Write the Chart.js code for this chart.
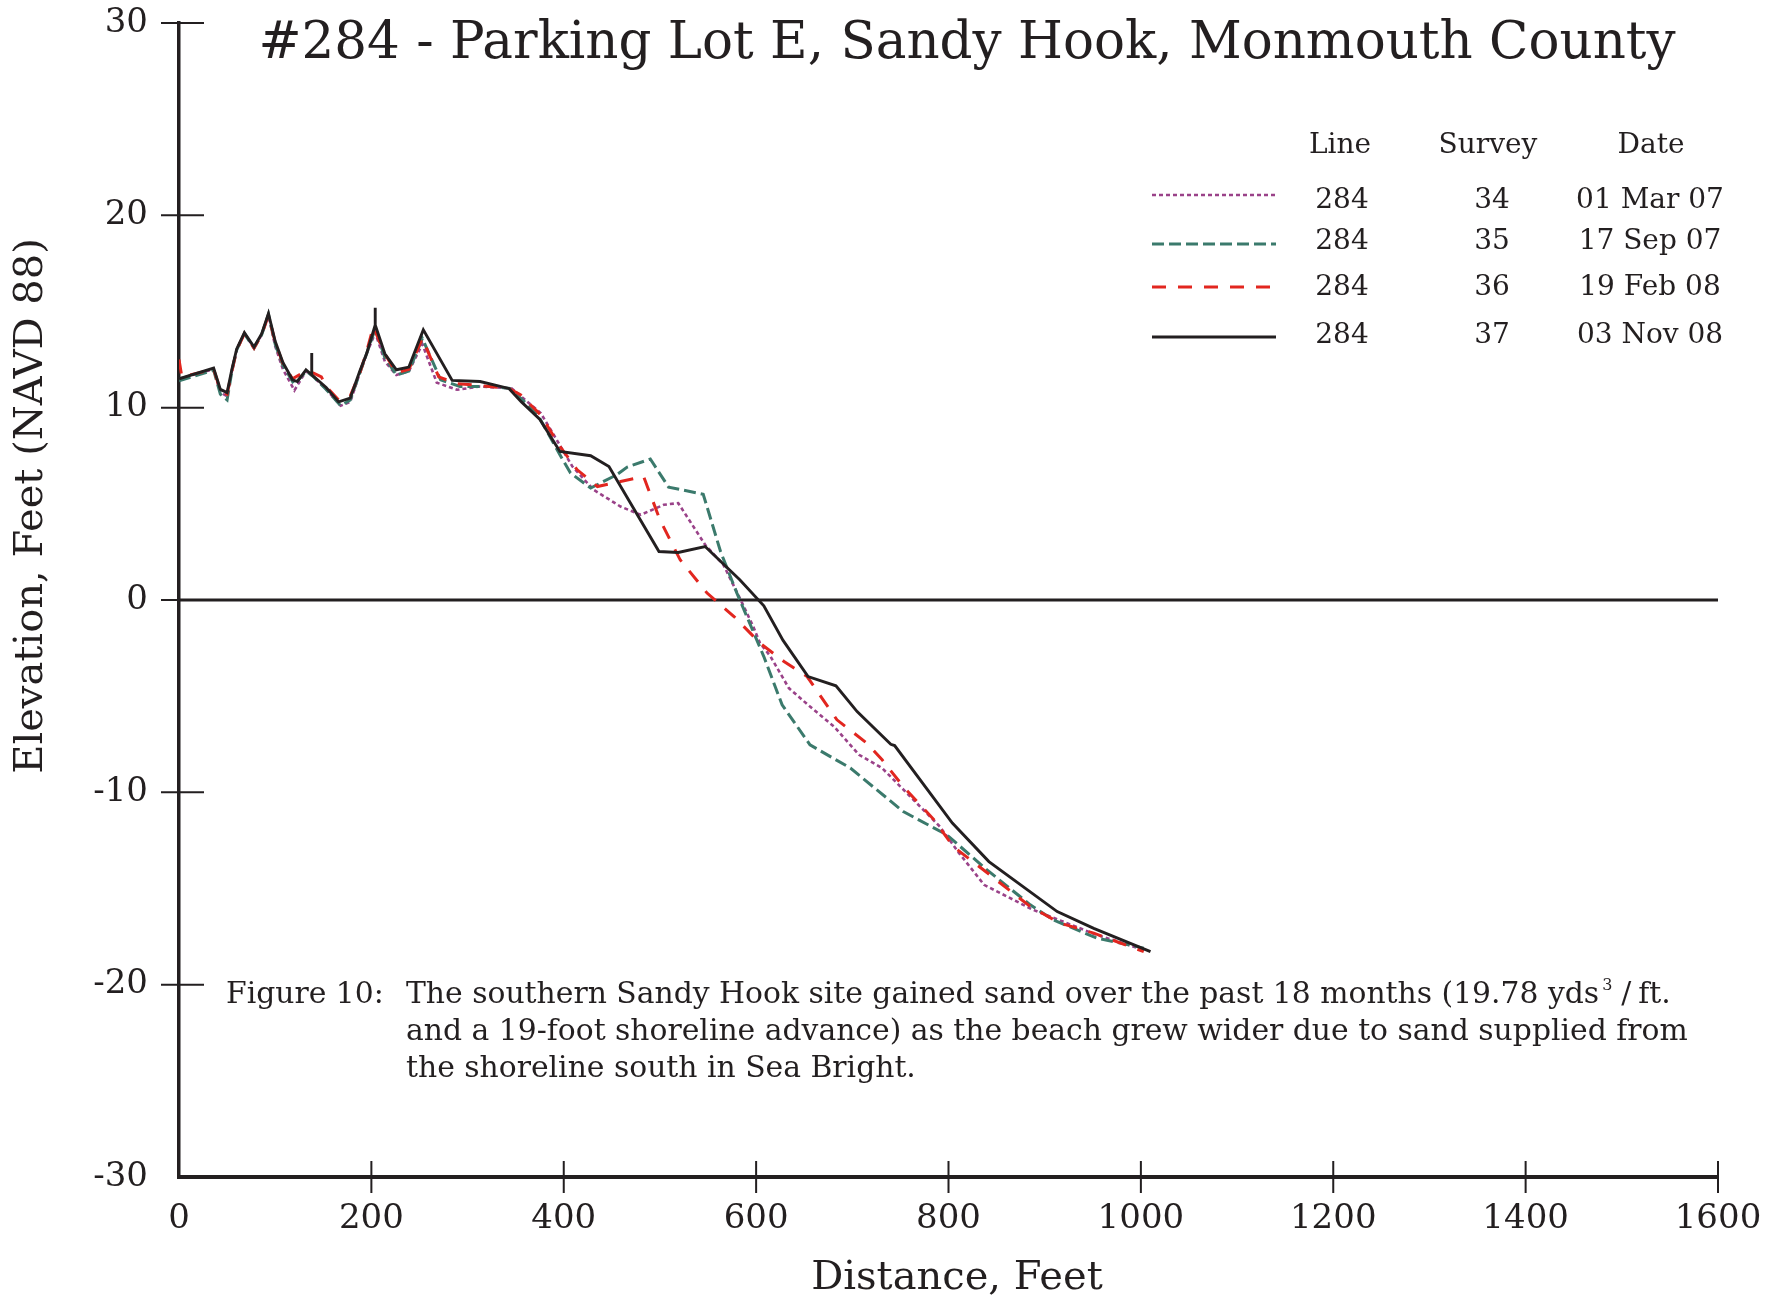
<!DOCTYPE html>
<html>
<head>
<meta charset="utf-8">
<title>#284 - Parking Lot E, Sandy Hook</title>
<script src="https://cdn.jsdelivr.net/npm/chart.js@4.4.0/dist/chart.umd.min.js"></script>
<style>
  html, body { margin: 0; padding: 0; background: #fff; }
  #wrap { width: 1786px; height: 1303px; }
</style>
</head>
<body>
<div id="wrap"><canvas id="profile" width="1786" height="1303"></canvas></div>
<script>
// ---- data ----
const distTicks = [0, 200, 400, 600, 800, 1000, 1200, 1400, 1600];
const elevTicks = [-30, -20, -10, 0, 10, 20, 30];

const lineNo = "284";
const surveys = ["34", "35", "36", "37"];
const dates = ["01 Mar 07", "17 Sep 07", "19 Feb 08", "03 Nov 08"];

// survey 34 - 01 Mar 07
const dist34 = [0, 36, 43, 50, 55, 60, 68, 78, 86, 93, 100, 108, 120, 132, 140, 153, 168, 178, 188, 195, 204, 214, 226, 239, 253, 268, 289, 313, 346, 376, 393, 409, 431, 459, 480, 504, 519, 547, 566, 584, 597, 604, 615, 634, 656, 681, 707, 731, 750, 791, 811, 837, 888, 954, 1003];
const elev34 = [11.5, 12.0, 10.8, 10.6, 11.9, 13.0, 13.85, 13.1, 13.8, 14.8, 13.2, 12.0, 10.9, 11.9, 11.6, 10.95, 10.1, 10.3, 11.8, 12.8, 13.9, 12.4, 11.7, 11.9, 13.3, 11.3, 10.93, 11.1, 11.0, 9.72, 8.3, 6.94, 5.73, 4.86, 4.43, 4.95, 5.04, 2.87, 1.83, 0.0, -1.38, -2.24, -2.94, -4.58, -5.54, -6.58, -8.05, -8.74, -9.7, -11.78, -13.16, -14.81, -16.11, -17.41, -18.19];

// survey 35 - 17 Sep 07
const dist35 = [0, 36, 43, 50, 55, 60, 68, 78, 86, 93, 100, 108, 120, 132, 140, 153, 168, 178, 188, 195, 204, 214, 226, 239, 253, 272, 292, 327, 344, 372, 396, 407, 428, 455, 466, 490, 509, 545, 563, 580, 608, 627, 656, 698, 753, 798, 840, 885, 909, 954, 1003];
const elev35 = [11.4, 11.95, 10.7, 10.4, 11.9, 13.0, 13.85, 13.1, 13.8, 14.85, 13.3, 12.2, 11.2, 11.9, 11.6, 10.95, 10.1, 10.4, 11.8, 12.8, 14.1, 12.6, 11.7, 11.9, 13.6, 11.45, 11.1, 11.1, 11.0, 9.72, 7.55, 6.6, 5.82, 6.51, 6.91, 7.33, 5.87, 5.5, 2.52, 0.36, -2.94, -5.45, -7.53, -8.74, -11.0, -12.2, -14.03, -15.85, -16.63, -17.58, -18.1];

// survey 36 - 19 Feb 08
const dist36 = [0, 3, 36, 43, 50, 55, 60, 68, 78, 86, 93, 100, 108, 118, 132, 140, 148, 153, 166, 178, 188, 195, 202, 214, 226, 239, 253, 270, 289, 313, 343, 355, 376, 396, 414, 435, 459, 483, 500, 521, 549, 577, 604, 629, 653, 684, 715, 731, 753, 785, 805, 843, 885, 916, 951, 1003];
const elev36 = [12.5, 11.6, 12.0, 10.9, 10.7, 11.9, 13.0, 13.85, 13.1, 13.8, 14.8, 13.4, 12.3, 11.5, 11.9, 11.8, 11.6, 11.1, 10.4, 10.6, 11.8, 12.9, 14.2, 12.8, 11.8, 12.0, 13.6, 11.6, 11.25, 11.15, 11.0, 10.67, 9.63, 7.98, 6.77, 5.9, 6.16, 6.42, 4.17, 2.09, 0.36, -0.86, -2.24, -3.2, -3.98, -6.23, -7.44, -8.31, -9.7, -11.43, -12.82, -14.29, -15.94, -16.8, -17.32, -18.28];

// survey 37 - 03 Nov 08
const dist37 = [0, 36, 43, 50, 55, 60, 68, 78, 86, 93, 100, 108, 118, 123, 132, 138, 138, 138, 153, 166, 178, 188, 195, 204, 204, 204, 214, 226, 239, 254, 284, 313, 343, 356, 375, 396, 428, 447, 499, 519, 547, 583, 608, 628, 654, 683, 705, 740, 744, 804, 842, 913, 951, 1010];
const elev37 = [11.5, 12.06, 10.95, 10.78, 12.0, 13.05, 13.9, 13.15, 13.85, 14.9, 13.45, 12.35, 11.45, 11.36, 11.97, 11.71, 12.84, 11.71, 11.05, 10.3, 10.5, 11.9, 12.8, 14.3, 15.2, 14.3, 12.8, 11.97, 12.11, 14.05, 11.42, 11.36, 11.0, 10.3, 9.4, 7.72, 7.5, 6.94, 2.52, 2.47, 2.78, 1.05, -0.3, -2.1, -3.98, -4.46, -5.8, -7.5, -7.57, -11.6, -13.6, -16.2, -17.07, -18.28];

const INK = "#231f20";
const SERIF = "'DejaVu Serif', 'Liberation Serif', serif";

const styles = [
    { color: "#9a4289", width: 2.6, dash: [4, 3] },
    { color: "#3b7a6c", width: 3, dash: [12, 5] },
    { color: "#e2261f", width: 3, dash: [14, 12] },
    { color: INK, width: 2.9, dash: [] }
];

function pts(xs, ys) {
    return xs.map((d, i) => ({ x: d, y: ys[i] }));
}

function makeSet(i, xs, ys) {
    const s = styles[i];
    return {
        label: "Survey " + surveys[i],
        data: pts(xs, ys),
        borderColor: s.color,
        borderWidth: s.width,
        borderDash: s.dash,
        pointRadius: 0,
        tension: 0,
        fill: false,
        order: 3 - i
    };
}

/* =========================
   axis ticks, zero line, titles, legend table, caption
   ========================= */
const decor = {
    id: "decor",
    beforeDatasetsDraw(chart) {
        const { ctx, scales: { x, y } } = chart;
        ctx.save();
        ctx.strokeStyle = INK;
        ctx.lineWidth = 2.8;
        ctx.beginPath();
        ctx.moveTo(x.getPixelForValue(distTicks[0]), y.getPixelForValue(0));
        ctx.lineTo(x.getPixelForValue(distTicks[distTicks.length - 1]), y.getPixelForValue(0));
        ctx.stroke();
        ctx.restore();
    },
    afterDraw(chart) {
        const { ctx, chartArea, scales: { x, y } } = chart;
        ctx.save();
        ctx.strokeStyle = INK;
        ctx.fillStyle = INK;

        // tick marks crossing the axes
        ctx.lineWidth = 2;
        ctx.beginPath();
        distTicks.forEach(v => {
            if (v === distTicks[0]) return;
            const px = x.getPixelForValue(v);
            ctx.moveTo(px, chartArea.bottom - 16);
            ctx.lineTo(px, chartArea.bottom + 16);
        });
        elevTicks.forEach(v => {
            if (v === elevTicks[0]) return;
            const py = y.getPixelForValue(v);
            ctx.moveTo(chartArea.left - 18, py);
            ctx.lineTo(chartArea.left + 25, py);
        });
        ctx.stroke();

        // title
        ctx.font = "51.5px " + SERIF;
        ctx.textAlign = "center";
        ctx.textBaseline = "alphabetic";
        ctx.fillText("#284 - Parking Lot E, Sandy Hook, Monmouth County", 967, 58);

        // axis titles
        ctx.font = "40px " + SERIF;
        ctx.textBaseline = "middle";
        ctx.fillText("Distance, Feet", 957, 1279);
        ctx.save();
        ctx.translate(32, 506);
        ctx.rotate(-Math.PI / 2);
        ctx.fillText("Elevation, Feet (NAVD 88)", 0, 0);
        ctx.restore();
        ctx.textBaseline = "alphabetic";

        // legend table
        ctx.font = "28px " + SERIF;
        ctx.fillText("Line", 1340, 153);
        ctx.fillText("Survey", 1488, 153);
        ctx.fillText("Date", 1651, 153);
        const rowBase = [208, 249, 295, 343];
        const rowLine = [195, 244, 287, 337];
        surveys.forEach((sv, i) => {
            const s = styles[i];
            ctx.fillStyle = INK;
            ctx.fillText(lineNo, 1342, rowBase[i]);
            ctx.fillText(sv, 1492, rowBase[i]);
            ctx.fillText(dates[i], 1650, rowBase[i]);
            ctx.beginPath();
            ctx.strokeStyle = s.color;
            ctx.lineWidth = s.width;
            ctx.setLineDash(s.dash);
            ctx.moveTo(1152, rowLine[i]);
            ctx.lineTo(1276, rowLine[i]);
            ctx.stroke();
        });
        ctx.setLineDash([]);

        // caption
        ctx.fillStyle = INK;
        ctx.textAlign = "left";
        const capFont = "29.8px " + SERIF;
        ctx.font = capFont;
        ctx.fillText("Figure 10:", 226, 1003);
        const part1 = "The southern Sandy Hook site gained sand over the past 18 months (19.78 yds";
        ctx.fillText(part1, 406, 1003);
        let cx = 406 + ctx.measureText(part1).width;
        ctx.font = "16px " + SERIF;
        ctx.fillText("3", cx + 3, 990);
        cx += ctx.measureText("3").width + 12;
        ctx.font = capFont;
        ctx.fillText("/", cx, 1003);
        cx += ctx.measureText("/").width + 7;
        ctx.fillText("ft.", cx, 1003);
        ctx.fillText("and a 19-foot shoreline advance) as the beach grew wider due to sand supplied from", 406, 1040);
        ctx.fillText("the shoreline south in Sea Bright.", 406, 1077);

        ctx.restore();
    }
};

new Chart(document.getElementById("profile"), {
    type: "line",
    data: {
        datasets: [
            makeSet(0, dist34, elev34),
            makeSet(1, dist35, elev35),
            makeSet(2, dist36, elev36),
            makeSet(3, dist37, elev37)
        ]
    },
    options: {
        responsive: false,
        animation: false,
        devicePixelRatio: 1,
        layout: { padding: { left: 0, right: 68, top: 23, bottom: 0 } },
        plugins: {
            legend: { display: false },
            tooltip: { enabled: false },
            title: { display: false }
        },
        scales: {
            x: {
                type: "linear",
                min: distTicks[0],
                max: distTicks[distTicks.length - 1],
                afterBuildTicks: s => { s.ticks = distTicks.map(v => ({ value: v })); },
                afterFit: s => { s.height = 126; },
                // ticks are drawn by the plugin; tickLength only offsets the labels
                grid: { display: false, drawTicks: true, tickLength: 22 },
                border: { display: true, color: INK, width: 4 },
                ticks: {
                    color: INK,
                    font: { family: SERIF, size: 34 },
                    padding: 0,
                    maxRotation: 0,
                    autoSkip: false,
                    callback: v => String(v)
                }
            },
            y: {
                type: "linear",
                min: elevTicks[0],
                max: elevTicks[elevTicks.length - 1],
                afterBuildTicks: s => { s.ticks = elevTicks.map(v => ({ value: v })); },
                afterFit: s => { s.width = 179; },
                grid: { display: false, drawTicks: true, tickLength: 31 },
                border: { display: true, color: INK, width: 3.5 },
                ticks: {
                    color: INK,
                    font: { family: SERIF, size: 34 },
                    padding: 0,
                    callback: v => String(v)
                }
            }
        }
    },
    plugins: [decor]
});
</script>
</body>
</html>
